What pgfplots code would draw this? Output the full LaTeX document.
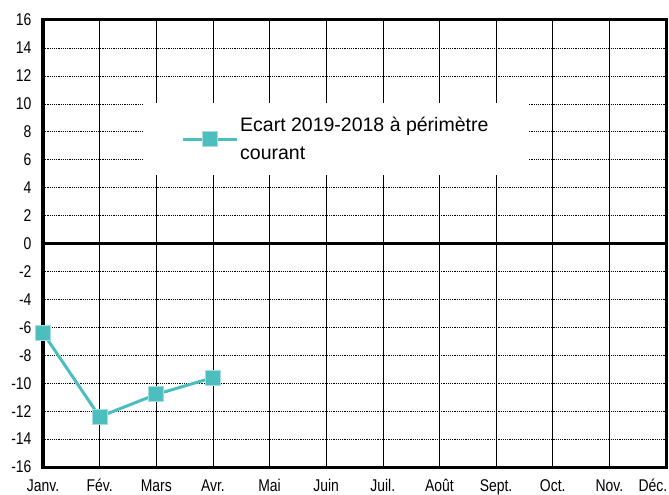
\documentclass[border=0pt]{standalone}
\usepackage{fontspec}
\setmainfont{Liberation Sans}
\newfontfamily\narrowfont[FakeStretch=0.82]{Liberation Sans}
\usepackage{pgfplots}
\pgfplotsset{compat=1.18}
\definecolor{tealA}{HTML}{4DBEBE}
\definecolor{tealB}{HTML}{A6DEDE}
\begin{document}
\begin{tikzpicture}
\path[use as bounding box] (-43bp,-28bp) rectangle (626bp,467bp);
\begin{axis}[at={(0,0)}, anchor=south west, scale only axis,
  width=623bp, height=447bp,
  xmin=0, xmax=11, ymin=-16, ymax=16,
  xtick={0,...,11},
  xticklabels={Janv.,Fév.,Mars,Avr.,Mai,Juin,Juil.,Août,Sept.,Oct.,Nov.,\hspace*{-26bp}Déc.},
  ytick={-16,-14,...,16},
  major tick length=0,
  grid=major,
  x grid style={black, line width=0.6bp},
  y grid style={black, line width=0.6bp, dash pattern=on 1.2bp off 1bp},
  axis line style={line width=3bp},
  tick label style={font=\narrowfont\fontsize{17bp}{19bp}\selectfont},
  /pgf/number format/assume math mode=true,
  yticklabel style={xshift=-8bp},
  xticklabel style={yshift=-9bp, text height=12bp, text depth=3bp},
  legend style={at={(rel axis cs:0.1605,0.814)}, anchor=north west, draw=none, fill=white,
    font=\fontsize{19.5bp}{28bp}\selectfont, cells={align=left},
    inner xsep=38bp, inner ysep=12bp},
  legend image code/.code={\draw[mark repeat=2,mark phase=2,#1] plot coordinates {(0bp,0bp)(27bp,0bp)(54bp,0bp)};},
]
\addplot[forget plot, line width=3bp, black] coordinates {(0,0) (11,0)};
\addplot[color=tealA, line width=3bp, mark=square*, mark size=7.5bp,
  mark options={fill=tealA, draw=tealB, line width=1bp}]
  coordinates {(0,-6.4) (1,-12.4) (2,-10.8) (3,-9.6)};
\addlegendentry{Ecart 2019-2018 à périmètre\\courant}
\end{axis}
\end{tikzpicture}
\end{document}
